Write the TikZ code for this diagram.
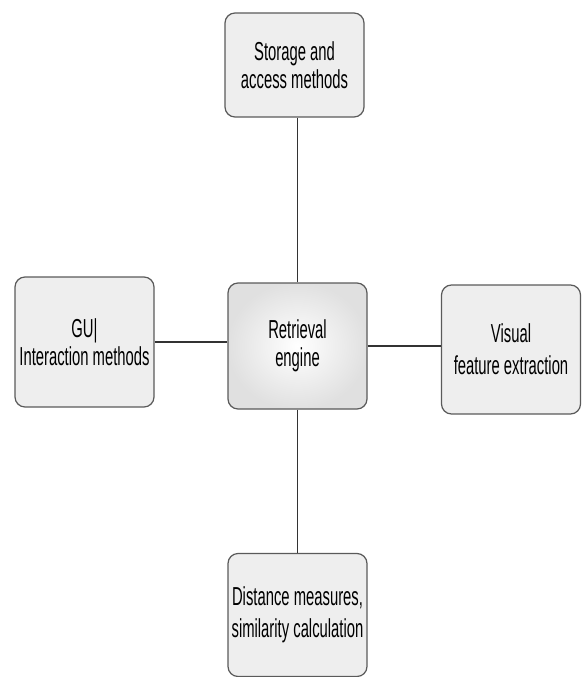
\documentclass[tikz,border=0pt]{standalone}
\usepackage{fontspec}
\usepackage{xcolor}
\usepackage{tikz}
\setmainfont{Liberation Sans}
\definecolor{boxgray}{RGB}{238,238,238}
\definecolor{edgegray}{RGB}{90,90,90}
\newcommand{\nrw}[1]{\scalebox{0.57}[1]{#1}}

\begin{document}
\begin{tikzpicture}[x=1pt, y=-1pt,
  block/.style={rectangle, draw=edgegray, line width=1.2pt, fill=boxgray, rounded corners=10pt,
    align=center, inner sep=0pt, font=\fontsize{26}{28}\selectfont},
  link/.style={draw=black!80, line width=1.1pt}]
\useasboundingbox (0,0) rectangle (582,677);

\node[block, minimum width=139pt, minimum height=104pt] (store) at (294.5,65) {\nrw{Storage and}\\\nrw{access methods}};

\node[block, minimum width=139pt, minimum height=130pt] (gui) at (84.5,342) {\nrw{GU|}\\\nrw{Interaction methods}};

\node[block, minimum width=139pt, minimum height=126pt, shading=radial, inner color=white, outer color=black!12] (engine) at (297.5,346) {\nrw{Retrieval}\\\nrw{engine}};

\node[block, minimum width=139pt, minimum height=129pt] (visual) at (511,349.5) {\nrw{Visual}\\[4pt]\nrw{feature extraction}};

\node[block, minimum width=139pt, minimum height=123pt] (dist) at (297.5,615) {\nrw{Distance measures,}\\[4pt]\nrw{similarity calculation}};

\draw[link] (engine.north) -- (engine.north |- store.south);
\draw[link] (gui.east) -- (gui.east -| engine.west);
\draw[link] (engine.east) -- (engine.east -| visual.west);
\draw[link] (engine.south) -- (engine.south |- dist.north);
\end{tikzpicture}
\end{document}
